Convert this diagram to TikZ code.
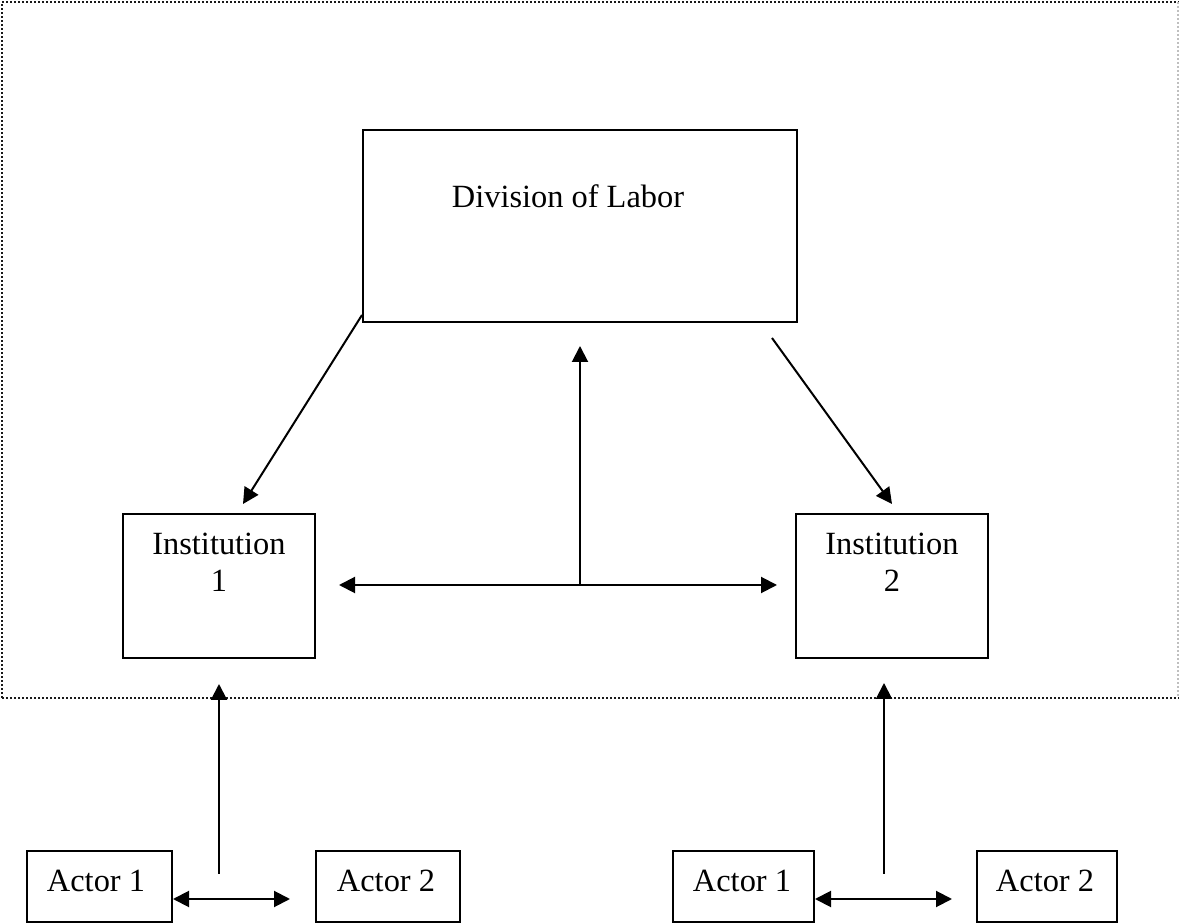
\documentclass[tikz,border=0pt]{standalone}
\usepackage{fontspec}
\setmainfont{Liberation Serif}
\usetikzlibrary{arrows.meta,calc}
\begin{document}
\begin{tikzpicture}[x=0.5pt,y=-0.5pt,
  box/.style={draw, line width=1pt, inner sep=0pt, rectangle},
  lbl/.style={font=\fontsize{16.2}{18.5}\selectfont, inner sep=0pt, anchor=base},
  conn/.style={line width=1pt, -{Triangle[length=8pt,width=8pt]}},
  dconn/.style={line width=1pt, {Triangle[length=8pt,width=8pt]}-{Triangle[length=8pt,width=8pt]}},
  frame/.style={line width=1pt, dash pattern=on 1pt off 1pt, black!90}]
\useasboundingbox (0,0) rectangle (1179,924);
% dotted frame
\draw[frame] (2,698) -- (2,2) -- (1179,2);
\draw[frame] (2,698) -- (1179,698);
\draw[frame, black!25] (1178,2) -- (1178,698);
% boxes
\node[box, minimum width=217pt, minimum height=96pt] (div) at (580,226) {};
\node[lbl] (divt) at (568,208) {Division of Labor};
\node[box, minimum width=96pt, minimum height=72pt] (i1) at (219,586) {};
\node[lbl] (i1a) at (219,555) {Institution};
\node[lbl] (i1b) at (219,592) {1};
\node[box, minimum width=96pt, minimum height=72pt] (i2) at (892,586) {};
\node[lbl] (i2a) at (892,555) {Institution};
\node[lbl] (i2b) at (892,592) {2};
\node[box, minimum width=72.5pt, minimum height=35.5pt] (a1L) at (99.5,886.5) {};
\node[lbl] (a1Lt) at (96,892) {Actor 1};
\node[box, minimum width=72pt, minimum height=35.5pt] (a2L) at (388,886.5) {};
\node[lbl] (a2Lt) at (386,892) {Actor 2};
\node[box, minimum width=70.5pt, minimum height=35.5pt] (a1R) at (743.5,886.5) {};
\node[lbl] (a1Rt) at (742,892) {Actor 1};
\node[box, minimum width=70pt, minimum height=35.5pt] (a2R) at (1047,886.5) {};
\node[lbl] (a2Rt) at (1045,892) {Actor 2};
% coordinates for free ends
\coordinate (d1s) at ($(div.south west)+(0,-8)$);
\coordinate (d1e) at ($(i1.north)+(24,-9)$);
\coordinate (d2s) at ($(div.south east)+(-26,15)$);
\coordinate (d2e) at ($(i2.north)+(0,-9)$);
\coordinate (hL) at ($(i1.east)+(23,-1)$);
\coordinate (hR) at ($(i2.west)+(-18,-1)$);
\coordinate (hM) at (580,585);
\coordinate (vT) at ($(div.south)+(0,23)$);
\coordinate (uLs) at (219,874);
\coordinate (uLe) at ($(i1.south)+(0,25)$);
\coordinate (uRs) at (884,874);
\coordinate (uRe) at (884,683);
\coordinate (aLe) at ($(a2L.west)+(-25,12.5)$);
\coordinate (aRe) at ($(a2R.west)+(-24,12.5)$);
% connectors
\draw[conn] (d1s) -- (d1e);
\draw[conn] (d2s) -- (d2e);
\draw[dconn] (hL) -- (hR);
\draw[conn] (hM) -- (vT);
\draw[conn] (uLs) -- (uLe);
\draw[conn] (uRs) -- (uRe);
\draw[dconn] ($(a1L.east)+(0,12.5)$) -- (aLe);
\draw[dconn] ($(a1R.east)+(0,12.5)$) -- (aRe);
\end{tikzpicture}
\end{document}
